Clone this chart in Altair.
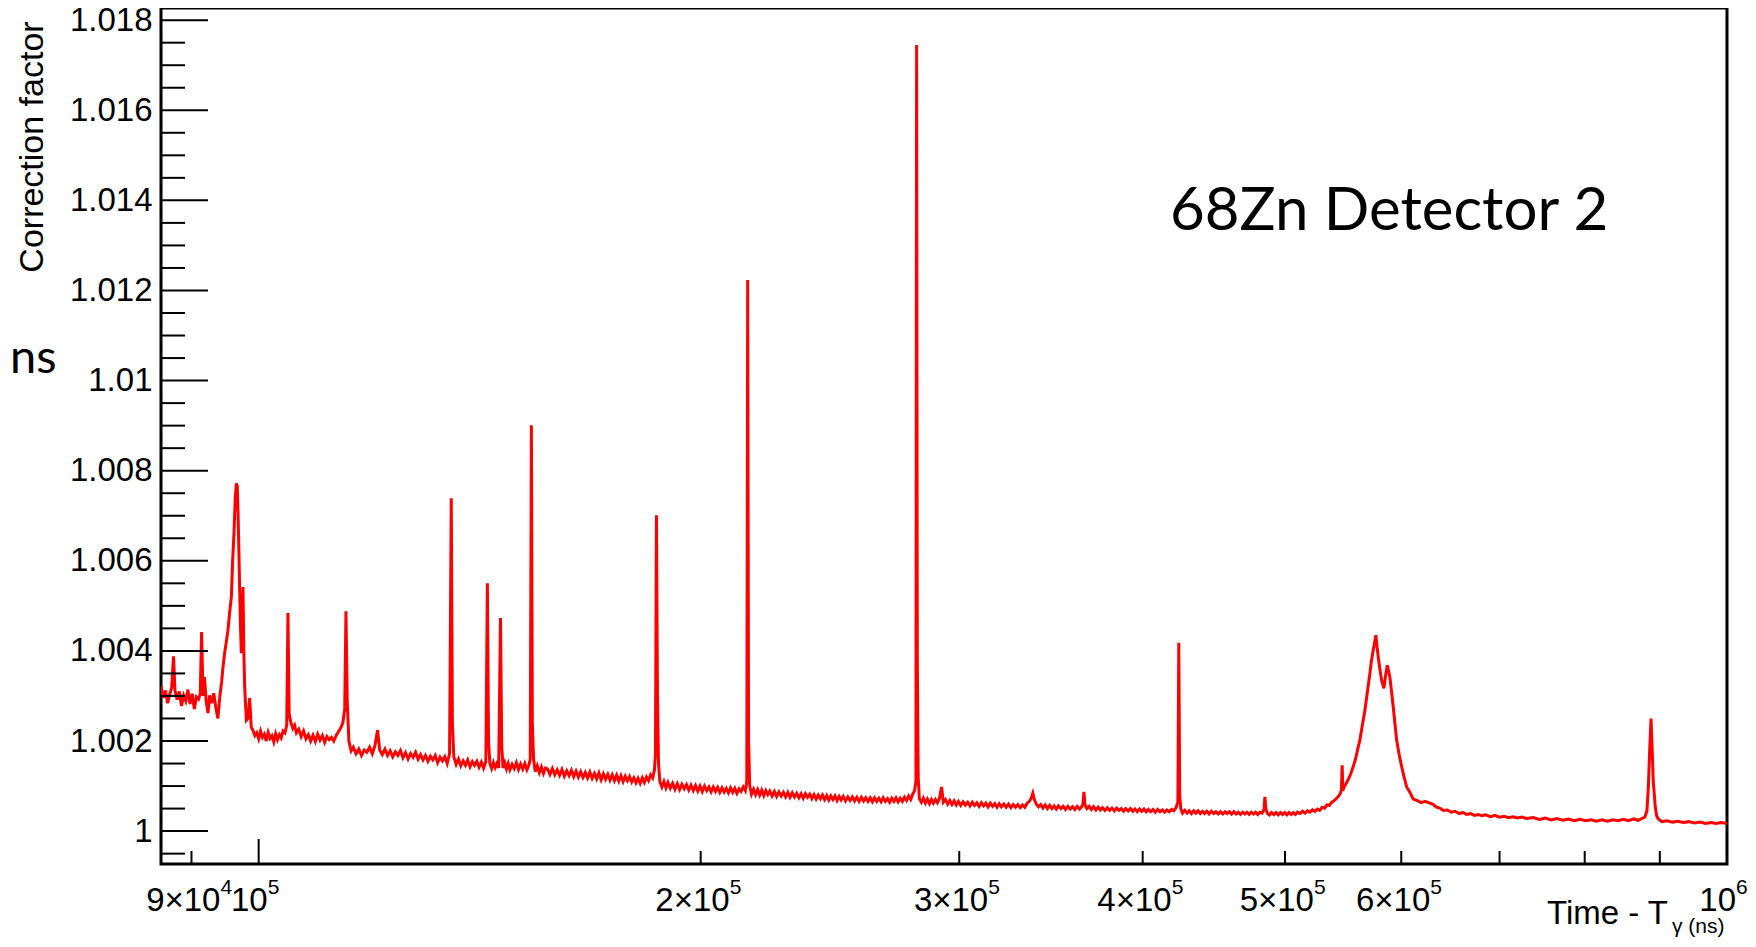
import altair as alt
import pandas as pd

# ---- data: (time - T_gamma [ns], correction factor) ----
seg_early = [
    (85800, 1.00322), (86100, 1.00296), (86400, 1.00312), (86700, 1.00284), (87000, 1.00305),
    (87250, 1.00318), (87500, 1.00388), (87700, 1.00312), (88000, 1.00292), (88300, 1.00310),
    (88600, 1.00278), (88900, 1.00301), (89200, 1.00289), (89500, 1.00314), (89800, 1.00282),
    (90100, 1.00305), (90400, 1.00271), (90700, 1.00298), (91000, 1.00293), (91250, 1.00305),
    (91440, 1.00442), (91650, 1.00300), (91850, 1.00342), (92100, 1.00288), (92360, 1.00262),
    (92600, 1.00301), (92900, 1.00284), (93200, 1.00306), (93500, 1.00275), (93810, 1.00250),
    (94100, 1.00300), (94350, 1.00330), (94560, 1.00364), (94800, 1.00395), (95050, 1.00420),
    (95300, 1.00446), (95550, 1.00485), (95810, 1.00520), (96000, 1.00600), (96200, 1.00660),
    (96400, 1.00740), (96560, 1.00772), (96700, 1.00765), (96810, 1.00710), (96950, 1.00620),
    (97060, 1.00540), (97200, 1.00450), (97320, 1.00395), (97450, 1.00480), (97570, 1.00542),
    (97700, 1.00400), (97830, 1.00320), (98090, 1.00246), (98350, 1.00250), (98600, 1.00295),
    (98850, 1.00230), (99110, 1.00224), (99400, 1.00212), (99700, 1.00218),
]
seg_100k = [
    (100000, 1.00205), (100300, 1.00222), (100600, 1.00208), (100900, 1.00215), (101200, 1.00200),
    (101500, 1.00219), (101800, 1.00206), (102100, 1.00212), (102400, 1.00198), (102700, 1.00216),
    (103000, 1.00203), (103300, 1.00214), (103600, 1.00207), (103900, 1.00222), (104200, 1.00218),
    (104500, 1.00235), (104700, 1.00484), (104900, 1.00260), (105200, 1.00240), (105500, 1.00228),
    (105800, 1.00235), (106100, 1.00218), (106500, 1.00226), (106900, 1.00210), (107300, 1.00222),
    (107700, 1.00205), (108100, 1.00214), (108500, 1.00200), (108900, 1.00213), (109300, 1.00199),
    (109700, 1.00215), (110100, 1.00202), (110500, 1.00212), (110900, 1.00197), (111300, 1.00210),
    (111700, 1.00203), (112100, 1.00208), (112500, 1.00200), (112900, 1.00212), (113300, 1.00220),
    (113700, 1.00228), (114100, 1.00240), (114450, 1.00270), (114670, 1.00488), (114900, 1.00290),
    (115200, 1.00200), (115600, 1.00178), (116000, 1.00186), (116500, 1.00172), (117000, 1.00182),
    (117500, 1.00168), (118000, 1.00180), (118500, 1.00175), (119000, 1.00186), (119500, 1.00172),
    (120000, 1.00190), (120500, 1.00224), (120900, 1.00180), (121400, 1.00170), (121900, 1.00182),
    (122400, 1.00168), (122900, 1.00178), (123400, 1.00165), (123900, 1.00176), (124400, 1.00168),
    (124900, 1.00179), (125400, 1.00163), (125900, 1.00174), (126400, 1.00160), (126900, 1.00172),
    (127400, 1.00164), (127900, 1.00175), (128400, 1.00160), (128900, 1.00170), (129400, 1.00158),
    (129900, 1.00168), (130400, 1.00155), (130900, 1.00166), (131400, 1.00158), (131900, 1.00168),
    (132400, 1.00152), (132900, 1.00164), (133400, 1.00156), (133900, 1.00165), (134400, 1.00150),
    (134900, 1.00172), (135260, 1.00739), (135500, 1.00240), (135800, 1.00165), (136300, 1.00148),
    (136800, 1.00160), (137300, 1.00145), (137800, 1.00156), (138300, 1.00146), (138800, 1.00158),
    (139300, 1.00143), (139800, 1.00154), (140300, 1.00146), (140800, 1.00155), (141300, 1.00142),
    (141800, 1.00153), (142300, 1.00140), (142800, 1.00155), (143140, 1.00550), (143400, 1.00200),
    (143700, 1.00150), (144100, 1.00139), (144500, 1.00152), (144900, 1.00141), (145300, 1.00150),
    (145700, 1.00140), (146110, 1.00473), (146400, 1.00190), (146700, 1.00140), (147100, 1.00152),
    (147500, 1.00138), (147900, 1.00150), (148300, 1.00136), (148800, 1.00148), (149300, 1.00139),
    (149800, 1.00152), (150300, 1.00137), (150800, 1.00149), (151300, 1.00138), (151800, 1.00150),
    (152300, 1.00136), (152800, 1.00147), (153100, 1.00160), (153370, 1.00901), (153600, 1.00240),
    (153900, 1.00160), (154300, 1.00132), (154800, 1.00145), (155300, 1.00130), (155800, 1.00142),
    (156300, 1.00128), (156800, 1.00140), (157300, 1.00138), (157900, 1.00126), (158500, 1.00139),
    (159100, 1.00125), (159700, 1.00136), (160300, 1.00124), (160900, 1.00137), (161500, 1.00122),
    (162100, 1.00134), (162700, 1.00123), (163300, 1.00135), (163900, 1.00121), (164500, 1.00133),
    (165100, 1.00120), (165700, 1.00132), (166300, 1.00119), (166900, 1.00130), (167500, 1.00118),
    (168100, 1.00131), (168700, 1.00117), (169300, 1.00128), (169900, 1.00116), (170500, 1.00129),
    (171100, 1.00114), (171700, 1.00127), (172300, 1.00115), (172900, 1.00126), (173500, 1.00113),
    (174100, 1.00125), (174700, 1.00112), (175300, 1.00124), (175900, 1.00111), (176500, 1.00123),
    (177100, 1.00110), (177700, 1.00122), (178300, 1.00112), (178900, 1.00121), (179500, 1.00109),
    (180100, 1.00118), (180700, 1.00107), (181300, 1.00117), (181900, 1.00106), (182500, 1.00118),
    (183100, 1.00108), (183700, 1.00120), (184300, 1.00112), (184900, 1.00125), (185500, 1.00118),
    (186000, 1.00135), (186300, 1.00170), (186600, 1.00701), (186900, 1.00300), (187200, 1.00150),
    (187600, 1.00110), (188200, 1.00098), (188800, 1.00110), (189400, 1.00096), (190000, 1.00108),
    (190700, 1.00095), (191400, 1.00106), (192100, 1.00093), (192800, 1.00105), (193500, 1.00092),
    (194200, 1.00104), (194900, 1.00094), (195600, 1.00103), (196300, 1.00091), (197000, 1.00102),
    (197700, 1.00090), (198400, 1.00101), (199100, 1.00089), (199800, 1.00100),
]
seg_200k = [
    (200500, 1.00088), (201200, 1.00100), (201900, 1.00090), (202600, 1.00098), (203300, 1.00087),
    (204000, 1.00098), (204700, 1.00088), (205400, 1.00097), (206100, 1.00086), (206800, 1.00096),
    (207500, 1.00087), (208200, 1.00095), (208900, 1.00085), (209600, 1.00096), (210300, 1.00086),
    (211000, 1.00095), (211700, 1.00084), (212400, 1.00094), (213100, 1.00088), (213800, 1.00098),
    (214500, 1.00090), (215000, 1.00110), (215300, 1.01223), (215600, 1.00200), (216000, 1.00100),
    (216600, 1.00082), (217300, 1.00093), (218000, 1.00081), (218700, 1.00092), (219400, 1.00080),
    (220100, 1.00091), (220800, 1.00079), (221500, 1.00090), (222200, 1.00081), (222900, 1.00089),
    (223700, 1.00078), (224500, 1.00088), (225300, 1.00077), (226100, 1.00087), (226900, 1.00078),
    (227700, 1.00086), (228500, 1.00076), (229300, 1.00086), (230100, 1.00075), (230900, 1.00085),
    (231700, 1.00076), (232500, 1.00084), (233300, 1.00074), (234100, 1.00083), (234900, 1.00073),
    (235700, 1.00083), (236500, 1.00075), (237300, 1.00082), (238100, 1.00072), (238900, 1.00081),
    (239700, 1.00071), (240500, 1.00080), (241300, 1.00072), (242100, 1.00080), (242900, 1.00070),
    (243700, 1.00079), (244500, 1.00069), (245300, 1.00078), (246100, 1.00070), (246900, 1.00078),
    (247700, 1.00068), (248500, 1.00077), (249300, 1.00069), (250100, 1.00077), (251000, 1.00067),
    (251900, 1.00076), (252800, 1.00068), (253700, 1.00076), (254600, 1.00067), (255500, 1.00075),
    (256400, 1.00066), (257300, 1.00075), (258200, 1.00067), (259100, 1.00074), (260000, 1.00066),
    (260900, 1.00074), (261800, 1.00065), (262700, 1.00074), (263600, 1.00066), (264500, 1.00073),
    (265400, 1.00065), (266300, 1.00074), (267200, 1.00066), (268100, 1.00072), (269000, 1.00064),
    (269900, 1.00073), (270800, 1.00066), (271700, 1.00074), (272600, 1.00065), (273500, 1.00073),
    (274400, 1.00066), (275300, 1.00075), (276200, 1.00068), (277100, 1.00078), (278000, 1.00070),
    (278900, 1.00082), (279700, 1.00090), (280300, 1.00110), (280600, 1.01745), (280900, 1.00390),
    (281300, 1.00120), (281800, 1.00072), (282700, 1.00064), (283600, 1.00073), (284500, 1.00062),
    (285400, 1.00071), (286300, 1.00061), (287200, 1.00070), (288100, 1.00062), (289000, 1.00070),
    (289900, 1.00063), (290800, 1.00072), (291800, 1.00098), (292600, 1.00064), (293600, 1.00070),
    (294600, 1.00060), (295600, 1.00068), (296600, 1.00059), (297600, 1.00067), (298600, 1.00058),
    (299600, 1.00066),
]
seg_300k = [
    (300700, 1.00057), (301800, 1.00065), (302900, 1.00058), (304000, 1.00064), (305100, 1.00056),
    (306200, 1.00064), (307300, 1.00057), (308400, 1.00063), (309500, 1.00055), (310600, 1.00063),
    (311700, 1.00056), (312800, 1.00062), (313900, 1.00054), (315000, 1.00062), (316100, 1.00055),
    (317200, 1.00061), (318300, 1.00053), (319400, 1.00061), (320500, 1.00054), (321700, 1.00060),
    (322900, 1.00053), (324100, 1.00060), (325300, 1.00052), (326500, 1.00059), (327700, 1.00053),
    (328900, 1.00059), (330100, 1.00052), (331300, 1.00058), (332500, 1.00053), (333700, 1.00062),
    (334900, 1.00066), (336000, 1.00075), (336700, 1.00084), (337500, 1.00070), (338500, 1.00060),
    (339700, 1.00054), (340900, 1.00059), (342100, 1.00051), (343300, 1.00058), (344500, 1.00050),
    (345700, 1.00057), (346900, 1.00050), (348100, 1.00056), (349300, 1.00049), (350500, 1.00056),
    (351800, 1.00050), (353100, 1.00055), (354400, 1.00048), (355700, 1.00055), (357000, 1.00049),
    (358300, 1.00054), (359600, 1.00048), (360900, 1.00055), (362200, 1.00049), (363500, 1.00054),
    (364200, 1.00060), (364800, 1.00087), (365400, 1.00058), (366500, 1.00050), (367800, 1.00055),
    (369100, 1.00048), (370400, 1.00054), (371700, 1.00047), (373000, 1.00053), (374300, 1.00047),
    (375600, 1.00052), (377000, 1.00046), (378400, 1.00052), (379800, 1.00046), (381200, 1.00051),
    (382600, 1.00045), (384000, 1.00051), (385400, 1.00046), (386800, 1.00050), (388200, 1.00044),
    (389600, 1.00050), (391000, 1.00045), (392400, 1.00050), (393800, 1.00044), (395200, 1.00049),
    (396600, 1.00043), (398000, 1.00049), (399400, 1.00044), (400800, 1.00049), (402200, 1.00043),
    (403600, 1.00048), (405000, 1.00043), (406500, 1.00048), (408000, 1.00042), (409500, 1.00048),
    (411000, 1.00043), (412500, 1.00047), (414000, 1.00042), (415500, 1.00047), (417000, 1.00043),
    (418500, 1.00048), (420000, 1.00045), (421500, 1.00052), (422700, 1.00065), (423300, 1.00418),
    (423900, 1.00080), (424600, 1.00050), (425800, 1.00040), (427300, 1.00046), (428800, 1.00040),
    (430300, 1.00045), (431800, 1.00039), (433300, 1.00045), (434800, 1.00040), (436300, 1.00045),
    (437800, 1.00039), (439300, 1.00044), (440800, 1.00039), (442300, 1.00044), (443900, 1.00038),
    (445500, 1.00044), (447100, 1.00039), (448700, 1.00043), (450300, 1.00038), (451900, 1.00043),
    (453500, 1.00038), (455100, 1.00043), (456700, 1.00039), (458300, 1.00043), (459900, 1.00038),
    (461500, 1.00043), (463100, 1.00038), (464700, 1.00042), (466300, 1.00037), (467900, 1.00042),
    (469500, 1.00038), (471100, 1.00042), (472700, 1.00037), (474300, 1.00042), (475900, 1.00038),
    (477500, 1.00042), (479100, 1.00037), (480700, 1.00042), (482300, 1.00040), (483800, 1.00048),
    (484500, 1.00076), (485200, 1.00050), (486200, 1.00040), (487900, 1.00036), (489600, 1.00041),
    (491300, 1.00037), (493000, 1.00041), (494700, 1.00036), (496400, 1.00041), (498100, 1.00037),
    (499800, 1.00041),
]
seg_late = [
    (501500, 1.00036), (503200, 1.00041), (504900, 1.00037), (506600, 1.00041), (508300, 1.00037),
    (510000, 1.00042), (512000, 1.00039), (514000, 1.00044), (516000, 1.00040), (518000, 1.00045),
    (520000, 1.00042), (522000, 1.00047), (524000, 1.00044), (526000, 1.00049), (528000, 1.00046),
    (530000, 1.00053), (532000, 1.00051), (534000, 1.00058), (536000, 1.00057), (538000, 1.00064),
    (539200, 1.00066), (541000, 1.00070), (543000, 1.00075), (545000, 1.00082), (546200, 1.00090),
    (546900, 1.00146), (547500, 1.00090), (548500, 1.00098), (550000, 1.00104), (552000, 1.00114),
    (554000, 1.00125), (556400, 1.00143), (558500, 1.00160), (560400, 1.00182), (562300, 1.00202),
    (564500, 1.00235), (566800, 1.00269), (569000, 1.00310), (571200, 1.00350), (572700, 1.00380),
    (574200, 1.00402), (575400, 1.00418), (576600, 1.00435), (577600, 1.00410), (578700, 1.00387),
    (580200, 1.00360), (581800, 1.00335), (583900, 1.00317), (585400, 1.00345), (587000, 1.00368),
    (588200, 1.00355), (589400, 1.00342), (590900, 1.00310), (592500, 1.00276), (594000, 1.00240),
    (595700, 1.00202), (598000, 1.00170), (600400, 1.00143), (602700, 1.00120), (605100, 1.00098),
    (608000, 1.00087), (611400, 1.00071), (615000, 1.00068), (619000, 1.00063), (623000, 1.00066),
    (627600, 1.00062), (631000, 1.00059), (634000, 1.00053), (637500, 1.00051), (641000, 1.00046),
    (645000, 1.00047), (649000, 1.00042), (653000, 1.00044), (657000, 1.00039), (661000, 1.00041),
    (664800, 1.00037), (669000, 1.00039), (673000, 1.00035), (677000, 1.00037), (681000, 1.00034),
    (685000, 1.00036), (690000, 1.00032), (695000, 1.00035), (700000, 1.00031), (705000, 1.00033),
    (710000, 1.00030), (715000, 1.00032), (720000, 1.00029), (725000, 1.00031), (730000, 1.00028),
    (738100, 1.00030), (745000, 1.00026), (752000, 1.00029), (759000, 1.00025), (766000, 1.00028),
    (773000, 1.00024), (780000, 1.00027), (787000, 1.00023), (794000, 1.00026), (801000, 1.00023),
    (808000, 1.00025), (815000, 1.00022), (822000, 1.00025), (829000, 1.00022), (836000, 1.00025),
    (843000, 1.00023), (850000, 1.00026), (857000, 1.00023), (864000, 1.00027), (870000, 1.00024),
    (875000, 1.00028), (879000, 1.00031), (882000, 1.00045), (884000, 1.00098), (885800, 1.00180),
    (887700, 1.00250), (889300, 1.00180), (890800, 1.00110), (891900, 1.00090), (893500, 1.00055),
    (895500, 1.00034), (897900, 1.00027), (903000, 1.00021), (910000, 1.00023), (918000, 1.00020),
    (926000, 1.00022), (934000, 1.00019), (942000, 1.00021), (950000, 1.00018), (958600, 1.00020),
    (967000, 1.00017), (975000, 1.00019), (983000, 1.00017), (991000, 1.00019), (1000000, 1.00017),
]

# axis ticks and labels
y_label_values = [1.0, 1.002, 1.004, 1.006, 1.008, 1.01, 1.012, 1.014, 1.016, 1.018]
y_minor_values = [0.9995, 1.0005, 1.001, 1.0015, 1.0025, 1.003, 1.0035, 1.0045, 1.005, 1.0055,
                  1.0065, 1.007, 1.0075, 1.0085, 1.009, 1.0095, 1.0105, 1.011, 1.0115,
                  1.0125, 1.013, 1.0135, 1.0145, 1.015, 1.0155, 1.0165, 1.017, 1.0175]
x_long_ticks = [100000, 1000000]
x_short_ticks = [90000, 200000, 300000, 400000, 500000, 600000, 700000, 800000, 900000]
x_lab_times_pos = [90000, 200000, 300000, 400000, 500000, 600000]
x_lab_times_txt = ["9×10", "2×10", "3×10", "4×10", "5×10", "6×10"]
x_lab_times_exp = ["4", "5", "5", "5", "5", "5"]
x_lab_pow_pos = [100000, 1000000]
x_lab_pow_txt = ["10", "10"]
x_lab_pow_exp = ["5", "6"]

W, H = 1566, 856
FONT = "Liberation Sans"

df = pd.DataFrame(seg_early + seg_100k + seg_200k + seg_300k + seg_late, columns=["x", "y"])

X = alt.X("x:Q", scale=alt.Scale(type="log", domain=[85800, 1000000], nice=False), axis=None)
Y = alt.Y("y:Q", scale=alt.Scale(domain=[0.99927, 1.01827], nice=False, zero=False),
          axis=alt.Axis(values=y_label_values, format="~g", title=None, grid=False, ticks=False,
                        tickSize=0, domain=False, labelFont=FONT, labelFontSize=33,
                        labelPadding=9, labelColor="black"))

line = alt.Chart(df).mark_line(color="#ff0000", strokeWidth=3, clip=True).encode(x=X, y=Y)

ymaj = alt.Chart(pd.DataFrame({"y": y_label_values})).mark_rule(color="black", strokeWidth=2).encode(
    y=Y, x=alt.value(0), x2=alt.value(47))
ymin = alt.Chart(pd.DataFrame({"y": y_minor_values})).mark_rule(color="black", strokeWidth=2).encode(
    y=Y, x=alt.value(0), x2=alt.value(24))
xlong = alt.Chart(pd.DataFrame({"x": x_long_ticks})).mark_rule(color="black", strokeWidth=2).encode(
    x=X, y=alt.value(H), y2=alt.value(H - 25))
xshort = alt.Chart(pd.DataFrame({"x": x_short_ticks})).mark_rule(color="black", strokeWidth=2).encode(
    x=X, y=alt.value(H), y2=alt.value(H - 13))

lt = pd.DataFrame({"x": x_lab_times_pos, "t": x_lab_times_txt, "e": x_lab_times_exp})
lp = pd.DataFrame({"x": x_lab_pow_pos, "t": x_lab_pow_txt, "e": x_lab_pow_exp})

lab_t = alt.Chart(lt).mark_text(font=FONT, fontSize=33, align="right", baseline="alphabetic",
                                dx=29, color="black").encode(x=X, y=alt.value(H + 47), text="t:N")
sup_t = alt.Chart(lt).mark_text(font=FONT, fontSize=21, align="left", baseline="alphabetic",
                                dx=29, color="black").encode(x=X, y=alt.value(H + 30), text="e:N")
lab_p = alt.Chart(lp).mark_text(font=FONT, fontSize=33, align="right", baseline="alphabetic",
                                dx=9, color="black").encode(x=X, y=alt.value(H + 47), text="t:N")
sup_p = alt.Chart(lp).mark_text(font=FONT, fontSize=21, align="left", baseline="alphabetic",
                                dx=9, color="black").encode(x=X, y=alt.value(H + 30), text="e:N")

def note(txt, x, y, **kw):
    return alt.Chart(pd.DataFrame({"t": [txt]})).mark_text(color="black", **kw).encode(
        text="t:N", x=alt.value(x), y=alt.value(y))

xtitle = note("Time - T", 1507, H + 60, font=FONT, fontSize=33, align="right", baseline="alphabetic")
xsub = note("γ (ns)", 1511, H + 69, font=FONT, fontSize=21, align="left", baseline="alphabetic")
ytitle = note("Correction factor", -118, 139, font=FONT, fontSize=34, align="center",
              baseline="alphabetic", angle=270)
ns_txt = note("ns", -151, 365, font="Lato", fontSize=47, align="left", baseline="alphabetic")
det_txt = note("68Zn Detector 2", 1009, 222, font="Lato", fontSize=60, align="left",
               baseline="alphabetic")

chart = alt.layer(
    line, ymaj, ymin, xlong, xshort, lab_t, sup_t, lab_p, sup_p,
    xtitle, xsub, ytitle, ns_txt, det_txt
).properties(
    width=W, height=H,
    autosize=alt.AutoSizeParams(type="none"),
    padding={"left": 153, "top": 0, "right": 21, "bottom": 75},
).configure_view(stroke="black", strokeWidth=3)

chart.save("out.html", embed_options={"renderer": "svg", "actions": False})
